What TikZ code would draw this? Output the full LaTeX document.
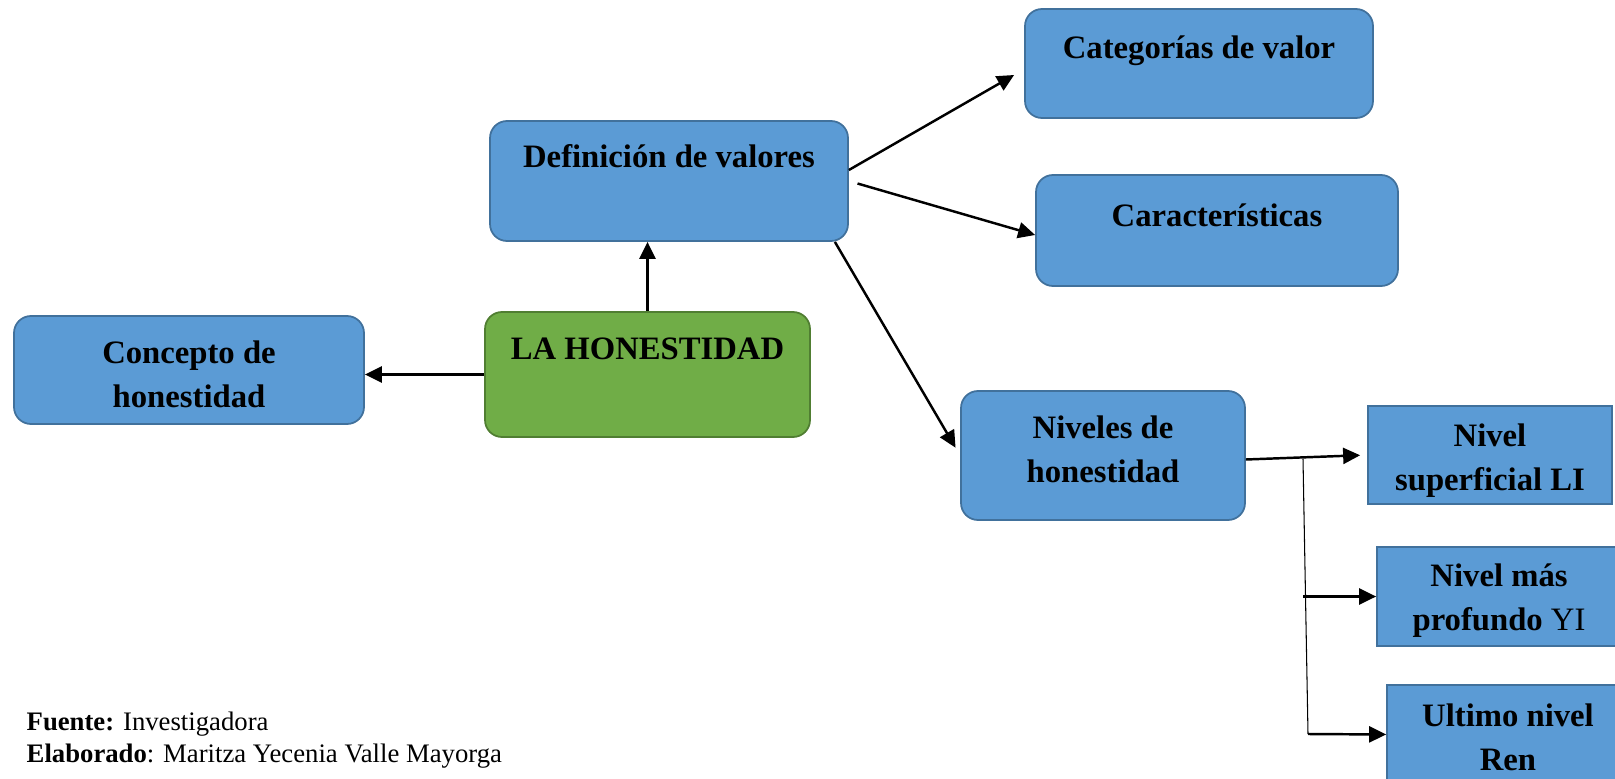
\documentclass[tikz,border=0pt]{standalone}
\usepackage{fontspec}
\setmainfont{Liberation Serif}
\usetikzlibrary{arrows.meta}

\definecolor{boxfill}{HTML}{5B9BD5}
\definecolor{boxline}{HTML}{41719C}
\definecolor{mainfill}{HTML}{70AD47}
\definecolor{mainline}{HTML}{507E32}

\begin{document}
\begin{tikzpicture}[x=0.1mm,y=-0.1mm]
    \tikzset{
        box/.style={
            draw=boxline, fill=boxfill, line width=0.5pt,
            font=\fontsize{9.3}{12.3}\selectfont\bfseries,
            align=center, inner sep=0pt
        },
        rbox/.style={box, rounded corners=1.7mm},
        toptext/.style 2 args={text height=#1, text depth=#2},
        arr/.style={-{Triangle[length=1.7mm,width=1.6mm]}, line width=0.7pt},
        note/.style={anchor=base west, inner sep=0pt, font=\fontsize{7.6}{9}\selectfont}
    }

    \useasboundingbox (0,0) rectangle (1615,779);
    \clip (0,0) rectangle (1615,779);

    \node[rbox,toptext={4.7mm}{7.8mm},minimum width=32.5mm,
        fill=mainfill,draw=mainline] (hon) at (647.5,374.5) {LA HONESTIDAD};
    \node[rbox,toptext={4.7mm}{7.3mm},minimum width=35.8mm] (def) at (669,181) {Definición de valores};
    \node[rbox,toptext={9.1mm}{1.7mm},minimum width=35mm] (con) at (189,370) {Concepto de\\honestidad};
    \node[rbox,toptext={5mm}{5.9mm},minimum width=34.8mm] (cat) at (1199,63.5) {Categorías de valor};
    \node[rbox,toptext={5.2mm}{5.9mm},minimum width=36.2mm] (car) at (1217,230.5) {Características};
    \node[rbox,toptext={9.1mm}{3.8mm},minimum width=28.4mm] (niv) at (1103,455.5) {Niveles de\\honestidad};
    \node[box,toptext={8.4mm}{1.4mm},minimum width=24.4mm] (li) at (1490,455) {Nivel\\superficial LI};
    \node[box,toptext={8.3mm}{1.6mm},minimum width=24.4mm] (yi) at (1499,596.5) {Nivel más\\profundo \mdseries YI};
    \node[box,toptext={8.5mm}{1.4mm},minimum width=24.2mm] (ren) at (1508,734.5) {Ultimo nivel\\Ren};

    \coordinate (ftop) at (1303,459);
    \coordinate (fbot) at (1308,734);

    \node[note] (src) at (26,730) {\textbf{Fuente:} Investigadora};
    \node[note] (auth) at (26,762) {\textbf{Elaborado}: Maritza Yecenia Valle Mayorga};

    \draw[arr] (hon.north) -- (hon.north |- def.south);
    \draw[arr] (hon.west) -- (hon.west -| con.east);
    \draw[arr] ([yshift=1.1mm]def.east) -- ([shift={(-1mm,-1.15mm)}]cat.west);
    \draw[arr,shorten <=0.9mm] (def.east) -- ([yshift=-0.45mm]car.west);
    \draw[arr,shorten >=0.9mm] ([xshift=-1.4mm]def.south east) -- (niv.west);
    \draw[arr,shorten >=0.7mm] ([yshift=-0.4mm]niv.east) -- (li.west);
    \draw[line width=0.3pt] (ftop) -- (fbot);
    \draw[arr] (ftop |- yi.west) -- (yi.west);
    \draw[arr] (fbot) -- (ren.west);
\end{tikzpicture}
\end{document}
